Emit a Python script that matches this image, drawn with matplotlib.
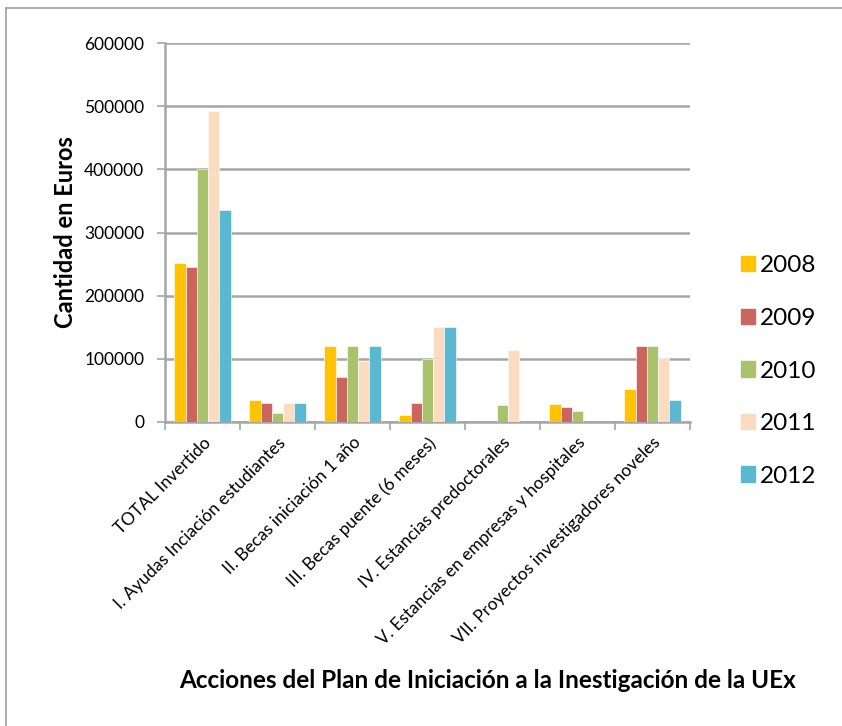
import numpy as np
import matplotlib.pyplot as plt
from matplotlib.lines import Line2D

plt.rcParams['font.family'] = ['Lato', 'DejaVu Sans']

# categories and values (Euros) per year
categories = ['TOTAL Invertido',
              'I. Ayudas Inciación estudiantes',
              'II. Becas iniciación 1 año',
              'III. Becas puente (6 meses)',
              'IV. Estancias predoctorales',
              'V. Estancias en empresas y hospitales',
              'VII. Proyectos investigadores noveles']
years = ['2008', '2009', '2010', '2011', '2012']
v2008 = [251000, 35000, 120000, 11000, 0, 29000, 52000]
v2009 = [246000, 30000, 71000, 30000, 0, 24000, 120000]
v2010 = [400000, 14000, 120000, 100000, 27000, 17000, 120000]
v2011 = [492000, 30000, 96000, 150000, 114000, 0, 101000]
v2012 = [336000, 30000, 120000, 150000, 0, 0, 35000]
series = [v2008, v2009, v2010, v2011, v2012]
colors = ['#FFC300', '#CD655F', '#A9C26C', '#FCDCC1', '#5BB8D1']

fig = plt.figure(figsize=(8.42, 7.26), dpi=100)
ax = fig.add_axes([165/842, 1-422/726, 525/842, 379/726])

x = np.arange(len(categories))
w = 0.151
for i, (vals, c) in enumerate(zip(series, colors)):
    ax.bar(x + (i - 2) * w, vals, w, color=c, edgecolor='white', linewidth=0.4,
           label=years[i], zorder=3)

ax.set_xlim(-0.5, len(categories) - 0.5)
ax.set_ylim(0, 600000)
ax.set_yticks(range(0, 600001, 100000))
ax.set_yticklabels([str(v) for v in range(0, 600001, 100000)], fontsize=12.5)
ax.yaxis.grid(True, color='#a6a6a6', linewidth=1.8, zorder=0)
ax.tick_params(axis='y', length=6, width=1.2, color='#a6a6a6', pad=9)

ax.set_xticks(x)
ax.set_xticklabels(categories, rotation=45, ha='right', va='top',
                   rotation_mode='anchor', fontsize=12.5)
ax.tick_params(axis='x', which='major', length=0, pad=9)
ax.set_xticks(np.arange(-0.5, len(categories), 1), minor=True)
ax.tick_params(axis='x', which='minor', length=6, width=1.2, color='#a6a6a6')

for s in ['top', 'right']:
    ax.spines[s].set_visible(False)
for s in ['left', 'bottom']:
    ax.spines[s].set_color('#a6a6a6')
    ax.spines[s].set_linewidth(1.8)

ax.set_ylabel('Cantidad en Euros', fontsize=17, fontweight='bold', labelpad=5)
fig.text(488/842, 1-680/726, 'Acciones del Plan de Iniciación a la Inestigación de la UEx',
         fontsize=17.5, fontweight='bold', ha='center', va='center')

handles = [plt.Rectangle((0, 0), 1, 1, color=c) for c in colors]
fig.legend(handles, years, loc='center left', bbox_to_anchor=(731/842, 1-371/726),
           frameon=False, fontsize=17.5, labelspacing=1.3, handlelength=0.6,
           handleheight=0.6, handletextpad=0.2, borderaxespad=0)

# outer frame
fig.add_artist(Line2D([6/842, 6/842], [0, 1-8/726], color='#a0a0a0', lw=1.2))
fig.add_artist(Line2D([6/842, 1], [1-8/726, 1-8/726], color='#a0a0a0', lw=1.2))

fig.savefig('out.png', dpi=100)
